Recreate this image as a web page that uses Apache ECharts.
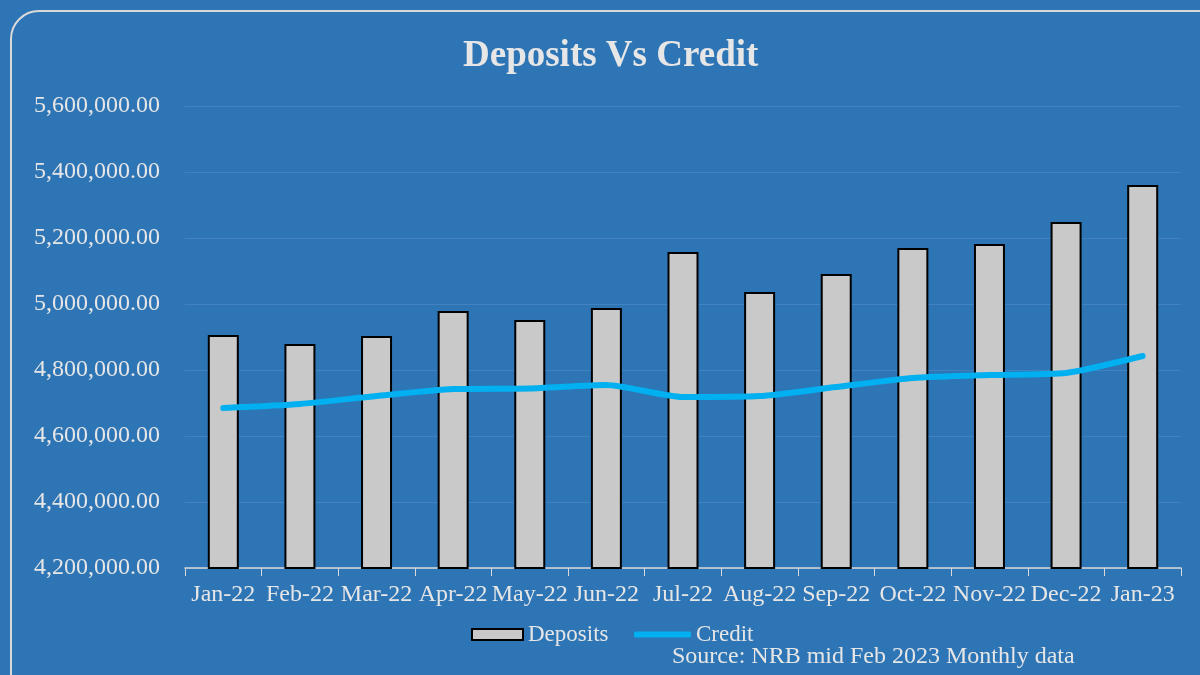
<!DOCTYPE html>
<html>
<head>
<meta charset="utf-8">
<script src="https://cdn.jsdelivr.net/npm/echarts@6/dist/echarts.min.js"></script>
<style>
  html, body { margin: 0; padding: 0; background: #2e75b6; }
  #chart { width: 1200px; height: 675px; }
</style>
</head>
<body>
<div id="chart"></div>
<script>
const months = ['Jan-22', 'Feb-22', 'Mar-22', 'Apr-22', 'May-22', 'Jun-22', 'Jul-22',
  'Aug-22', 'Sep-22', 'Oct-22', 'Nov-22', 'Dec-22', 'Jan-23'];
const deposits = [4906000, 4879000, 4903000, 4979000, 4951500, 4988000, 5157600,
  5036400, 5091000, 5169700, 5181800, 5248500, 5360600];
const credit = [4684800, 4697000, 4721200, 4742400, 4744000, 4754500, 4718000,
  4721000, 4748500, 4775800, 4784800, 4790900, 4842400];

const serif = '"Liberation Serif", "DejaVu Serif", serif';
const textColor = '#e6e6e6';

const chart = echarts.init(document.getElementById('chart'));

chart.setOption({
  backgroundColor: '#2e75b6',
  textStyle: { fontFamily: serif },
  graphic: [{
    type: 'rect',
    shape: { x: 11, y: 11, width: 1220, height: 700, r: 28 },
    style: { fill: 'none', stroke: '#d9d9d9', lineWidth: 2 },
    silent: true
  }, {
    type: 'text',
    left: 672,
    top: 645,
    style: {
      text: 'Source: NRB mid Feb 2023 Monthly data',
      fill: textColor,
      font: '24px ' + serif
    }
  }],
  title: {
    text: 'Deposits Vs Credit',
    left: 458,
    top: 33,
    textStyle: { color: textColor, fontSize: 37, fontWeight: 'bold', fontFamily: serif }
  },
  // two legends so the line key can be thinner than the bar key
  legend: [{
    top: 618,
    left: 466,
    itemWidth: 51,
    itemHeight: 11,
    icon: 'rect',
    textStyle: { color: textColor, fontSize: 23, fontFamily: serif },
    data: ['Deposits']
  }, {
    top: 618,
    left: 629,
    itemWidth: 57,
    itemHeight: 6,
    icon: 'roundRect',
    textStyle: { color: textColor, fontSize: 23, fontFamily: serif },
    data: ['Credit']
  }],
  grid: { left: 185, right: 19, top: 106, bottom: 107 },
  xAxis: {
    type: 'category',
    data: months,
    axisLine: { lineStyle: { color: '#d9d9d9', width: 1.5 } },
    axisTick: { show: true, length: 8, lineStyle: { color: '#d9d9d9' } },
    axisLabel: { color: textColor, fontSize: 24, fontFamily: serif, margin: 15, interval: 0 }
  },
  yAxis: {
    type: 'value',
    min: 4200000,
    max: 5600000,
    interval: 200000,
    axisLine: { show: false },
    axisTick: { show: false },
    splitLine: { lineStyle: { color: '#4282c0', width: 1 } },
    axisLabel: {
      color: textColor,
      fontSize: 24,
      fontFamily: serif,
      margin: 25,
      formatter: v => v.toLocaleString('en-US', { minimumFractionDigits: 2, maximumFractionDigits: 2 })
    }
  },
  series: [{
    name: 'Deposits',
    type: 'bar',
    data: deposits,
    barWidth: 31,
    itemStyle: { color: '#c9c9c9', borderColor: '#000000', borderWidth: 2 }
  }, {
    name: 'Credit',
    type: 'line',
    data: credit,
    smooth: 0.2,
    symbol: 'none',
    itemStyle: { color: '#00b0f0' },
    lineStyle: { color: '#00b0f0', width: 6, cap: 'round' }
  }]
});
</script>
</body>
</html>
